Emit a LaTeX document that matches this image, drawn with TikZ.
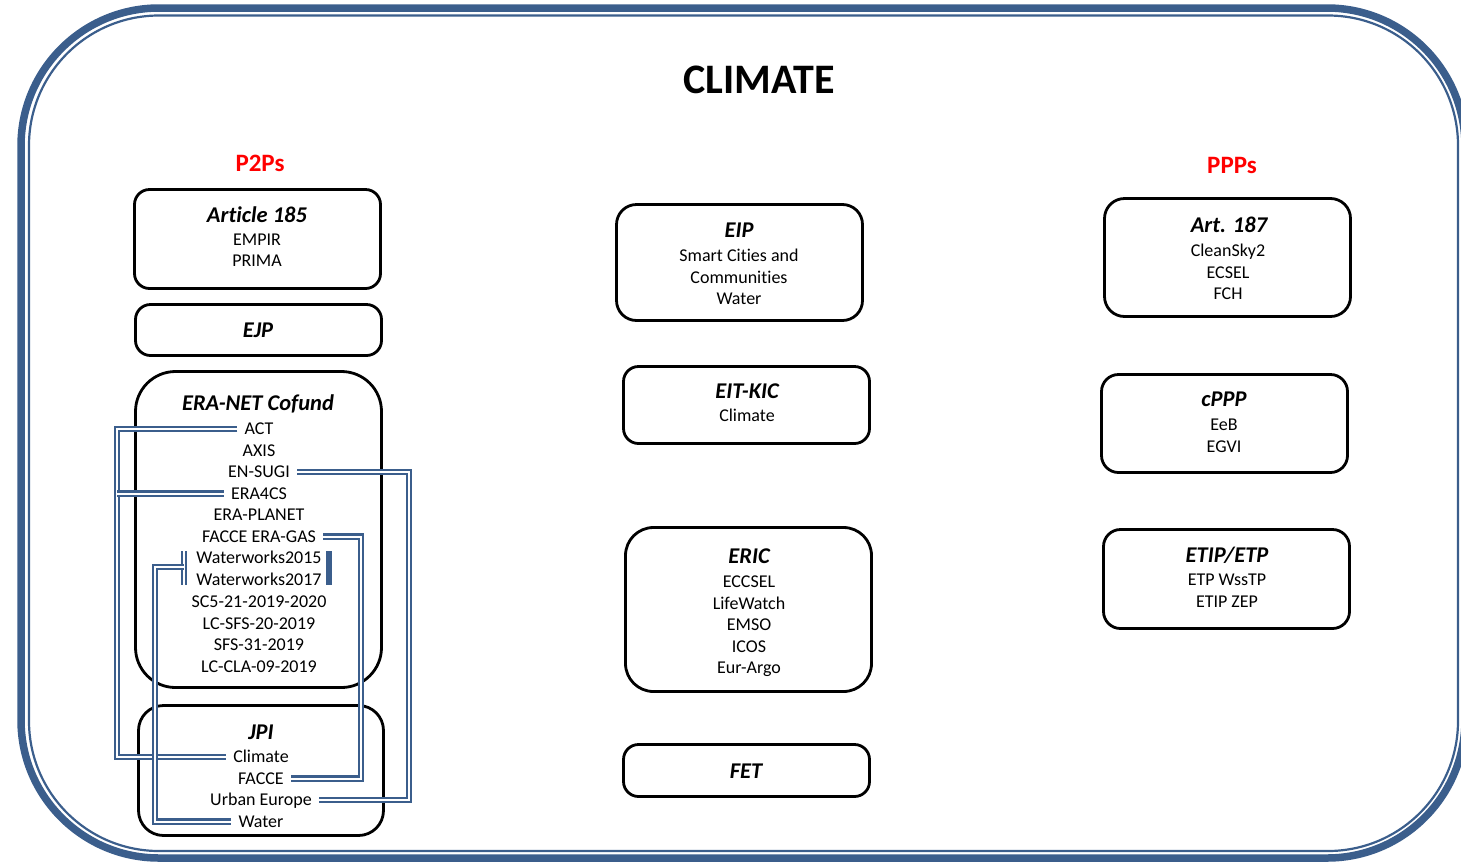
\documentclass[tikz,border=0pt]{standalone}
\usepackage{fontspec}
\setmainfont{Carlito}[Ligatures=NoCommon]
\usetikzlibrary{calc}
\definecolor{frameblue}{RGB}{59,94,140}
\definecolor{pred}{RGB}{255,0,0}
\begin{document}
\begin{tikzpicture}[x=1pt,y=-1pt,
  box/.style={draw=black, line width=2.8, rounded corners=#1, inner sep=0, minimum width=246},
  box/.default=15,
  item/.style={inner ysep=0, inner xsep=7, text height=13, text depth=2, font=\fontsize{18}{21}\selectfont},
  ttl/.style={inner sep=0, text height=15, text depth=3, font=\fontsize{22.5}{25}\selectfont\bfseries\itshape},
  head/.style={inner sep=0, text=pred, font=\fontsize{25}{28}\selectfont\bfseries},
  conn/.style={draw=frameblue, line width=2.4, double=white, double distance=2},
]
\useasboundingbox (0,0) rectangle (1461,863);
\clip (0,0) rectangle (1461,863);

% outer frame
\draw[frameblue, line width=7.5, rounded corners=138] (21,8) rectangle (1465,858);
\draw[frameblue, line width=2.2, rounded corners=130] (29,15.5) rectangle (1458,851);

% headings
\node[inner sep=0, font=\fontsize{42}{45}\selectfont\bfseries] (title) at (759,80) {CLIMATE};
\node[head] (p2p) at (260,163) {P2Ps};
\node[head] (ppp) at (1232,165) {PPPs};

% boxes
\node[box, minimum height=99] (b185) at (257.5,239) {};
\node[box, minimum height=51] (bejp) at (258.5,330) {};
\node[box=40, minimum height=316] (bera) at (258.5,529.5) {};
\node[box=25, minimum height=130, minimum width=245] (bjpi) at (261,770.5) {};
\node[box=20, minimum height=116] (beip) at (739.5,262.5) {};
\node[box, minimum height=77] (beit) at (746.5,405) {};
\node[box=28, minimum height=164] (beric) at (748.5,609.5) {};
\node[box, minimum height=52] (bfet) at (746.5,770.5) {};
\node[box=20, minimum height=118] (b187) at (1227.5,257.5) {};
\node[box=17, minimum height=98] (bcppp) at (1224.5,423.5) {};
\node[box=17, minimum height=99] (betip) at (1226.5,579) {};

% Article 185
\node[ttl] (t185) at (257,216) {Article 185};
\node[item] (empir) at (257,240) {EMPIR};
\node[item] (prima) at (257,261) {PRIMA};
% EJP
\node[ttl] (tejp) at (258,331) {EJP};
% ERA-NET Cofund
\node[ttl] (tera) at (258,404) {ERA-NET Cofund};
\node[item] (act) at (259,429) {ACT};
\node[item] (axis) at (259,450.5) {AXIS};
\node[item] (ensugi) at (259,472) {EN-SUGI};
\node[item] (era4cs) at (259,493.5) {ERA4CS};
\node[item] (eraplanet) at (259,515) {ERA-PLANET};
\node[item] (gas) at (259,536.5) {FACCE ERA-GAS};
\node[item] (ww15) at (259,558) {Waterworks2015};
\node[item] (ww17) at (259,580) {Waterworks2017};
\node[item] (sc5) at (259,602) {SC5-21-2019-2020};
\node[item] (lcsfs) at (259,623.5) {LC-SFS-20-2019};
\node[item] (sfs) at (259,645) {SFS-31-2019};
\node[item] (lccla) at (259,666.5) {LC-CLA-09-2019};
% JPI
\node[ttl] (tjpi) at (261,733) {JPI};
\node[item] (clim) at (261,757) {Climate};
\node[item] (facce) at (261,778.5) {FACCE};
\node[item] (urban) at (261,800) {Urban Europe};
\node[item] (water) at (261,821.5) {Water};
% EIP
\node[ttl] (teip) at (739,231) {EIP};
\node[item] (smart) at (739,256) {Smart Cities and};
\node[item] (comm) at (739,277.5) {Communities};
\node[item] (eipwater) at (739,299) {Water};
% EIT-KIC
\node[ttl] (teit) at (747,392) {EIT-KIC};
\node[item] (eitclim) at (747,416) {Climate};
% ERIC
\node[ttl] (teric) at (749,557) {ERIC};
\node[item] (eccsel) at (749,582) {ECCSEL};
\node[item] (lifew) at (749,603.5) {LifeWatch};
\node[item] (emso) at (749,625) {EMSO};
\node[item] (icos) at (749,646.5) {ICOS};
\node[item] (argo) at (749,668) {Eur-Argo};
% FET
\node[ttl] (tfet) at (746,772) {FET};
% Art. 187
\node[ttl] (t187) at (1229,226) {Art. 187};
\node[item] (clean) at (1228,251) {CleanSky2};
\node[item] (ecsel) at (1228,272.5) {ECSEL};
\node[item] (fch) at (1228,294) {FCH};
% cPPP
\node[ttl] (tcppp) at (1224,400) {cPPP};
\node[item] (eeb) at (1224,425) {EeB};
\node[item] (egvi) at (1224,446.5) {EGVI};
% ETIP/ETP
\node[ttl] (tetip) at (1227,556) {ETIP/ETP};
\node[item] (wsstp) at (1227,580) {ETP WssTP};
\node[item] (zep) at (1227,601.5) {ETIP ZEP};

% connector buses
\coordinate (busL) at (117,0);
\coordinate (busW) at (155,0);
\coordinate (busF) at (361,0);
\coordinate (busU) at (409,0);
\coordinate (wwtop) at (184,551);
\coordinate (wwbot) at (184,585);
\coordinate (wwmid) at (184,567);

\draw[conn] (act.west) -- (act.west -| busL) |- (clim.west);
\draw[conn] (era4cs.west) -- (era4cs.west -| busL);
\draw[conn] (ensugi.east) -- (ensugi.east -| busU) |- (urban.east);
\draw[conn] (gas.east) -- (gas.east -| busF) |- (facce.east);
\draw[conn] (wwtop) -- (wwbot);
\draw[conn] (wwmid) -- (wwmid -| busW) |- (water.west);
\fill[frameblue] (326,551) rectangle (332,585);
\end{tikzpicture}
\end{document}
